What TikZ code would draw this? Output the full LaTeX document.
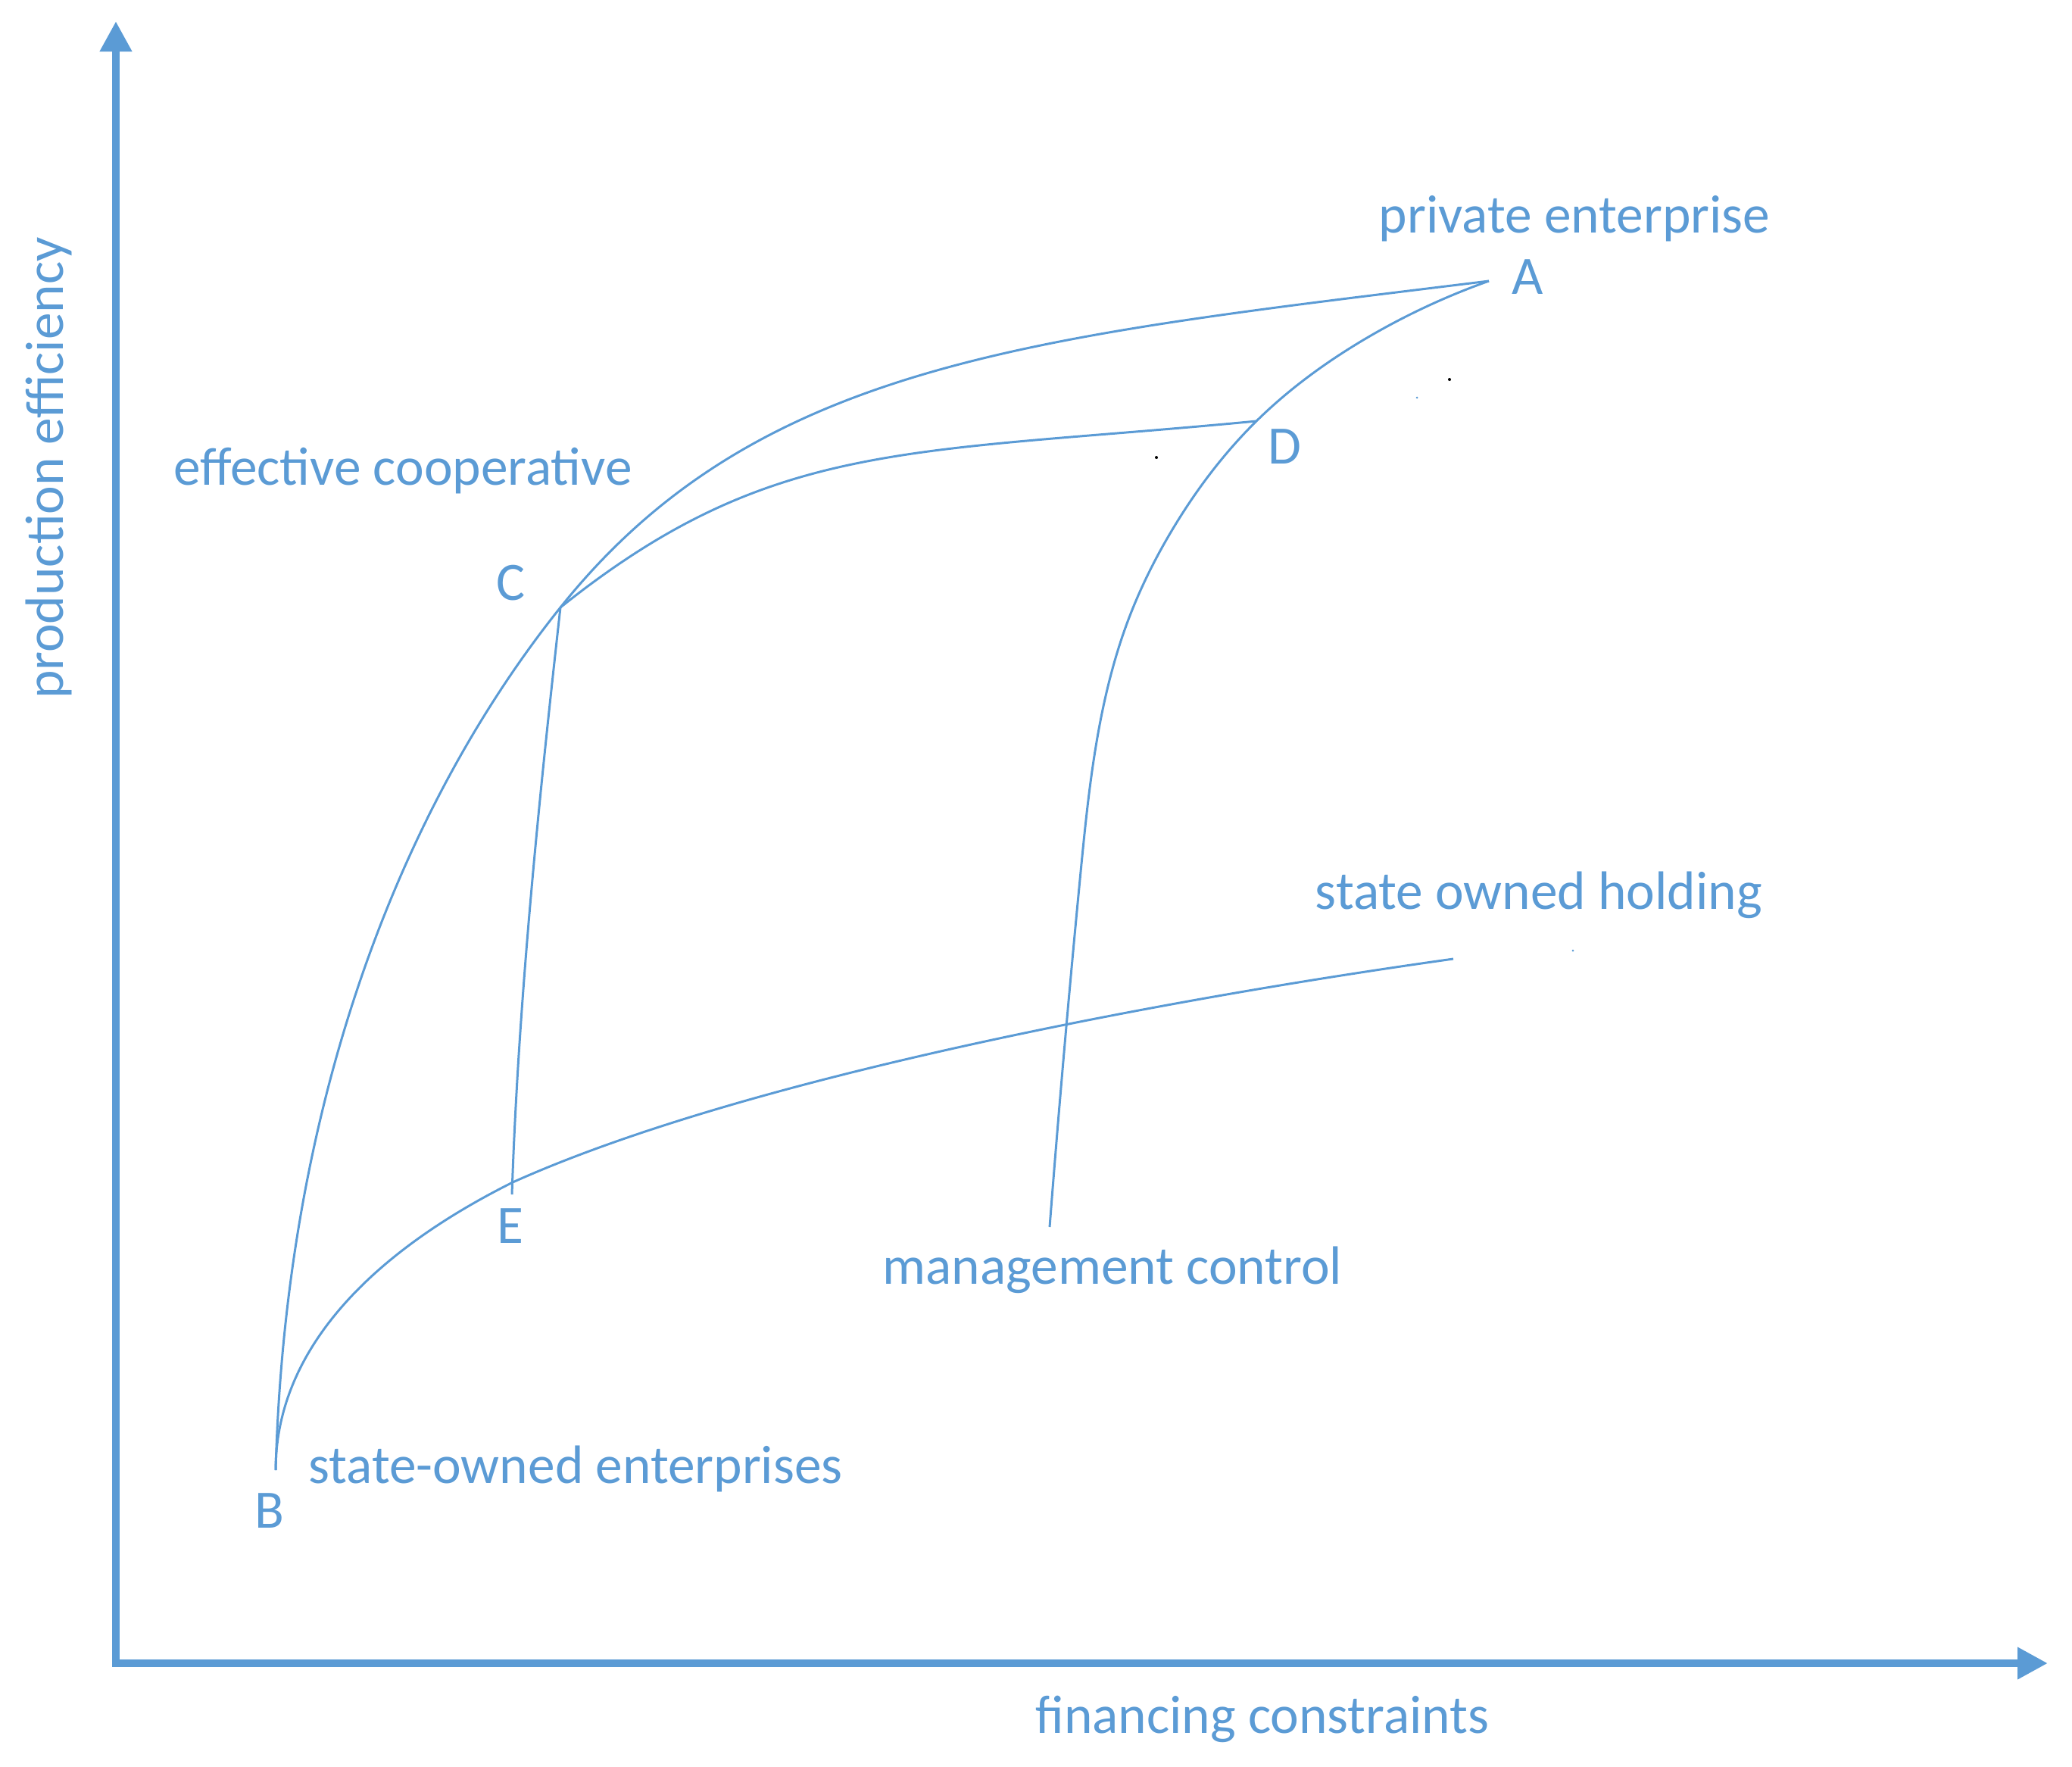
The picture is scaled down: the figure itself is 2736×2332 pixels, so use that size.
\documentclass[tikz,border=0pt]{standalone}
\usepackage{fontspec}
\setmainfont{Carlito}
\usetikzlibrary{arrows.meta,hobby}
\definecolor{officeblue}{HTML}{5B9BD5}

\begin{document}
\begin{tikzpicture}[x=0.01cm,y=-0.01cm,
        every node/.style={text=officeblue,font=\fontsize{20.3}{24}\selectfont,inner sep=0pt,anchor=base},
        curve/.style={draw=officeblue,line width=0.85pt},
        axis/.style={draw=officeblue,line width=2.85pt,{Triangle[length=0.4cm,width=0.4cm]}-{Triangle[length=0.4cm,width=0.4cm]}}]
                \useasboundingbox (0,0) rectangle (2736,2332);

                \coordinate (O) at (153,2196);
                \coordinate (X) at (2704,2196);
                \coordinate (Y) at (153,28);
                \draw[axis] (Y) -- (O) -- (X);

                \coordinate (A) at (1966,371);
                \coordinate (B) at (364,1941);
                \coordinate (C) at (740,802);
                \coordinate (D) at (1659,556);
                \coordinate (E) at (677,1561);
                \coordinate (Etip) at (676,1577);
                \coordinate (H) at (1919,1266);
                \coordinate (M) at (1386,1620);

                \draw[curve] (B) .. controls (378,1435) and (540,1052) .. (C) .. controls (1000,477) and (1366,445) .. (A);
                \draw[curve] (C) .. controls (1020,578) and (1200,600) .. (D);
                \draw[curve,use Hobby shortcut] (A) .. (1800,449) .. (D) .. (1550,696) .. (1490,818) .. (1453,952) .. (1427,1151) .. (M);
                \draw[curve] (C) .. controls (718,1000) and (685,1300) .. (Etip);
                \draw[curve] (B) .. controls (364,1791) and (477,1661) .. (E) .. controls (977,1426) and (1519,1322) .. (H);

                \foreach \n/\x/\y in {A/2017/388, B/356/2017, C/675/792, D/1696/612, E/674/1641}{
                    \node (lab\n) at (\x,\y) {\n};
                }
                \node (private) at (2079,307) {private enterprise};
                \node (coop) at (532,640) {effective cooperative};
                \node (holding) at (2032,1200) {state owned holding};
                \node (mgmt) at (1469,1695) {management control};
                \node (soe) at (760,1958) {state-owned enterprises};
                \node (xlabel) at (1667,2288) {financing constraints};
                \node[rotate=90] (ylabel) at (83,618) {production efficiency};

                \fill (1914,501) circle (2);
                \fill (1527,604) circle (2);
                \fill[officeblue] (1871,525) circle (1.5);
                \fill[officeblue] (2077,1255) circle (1.5);
            \end{tikzpicture}
\end{document}
